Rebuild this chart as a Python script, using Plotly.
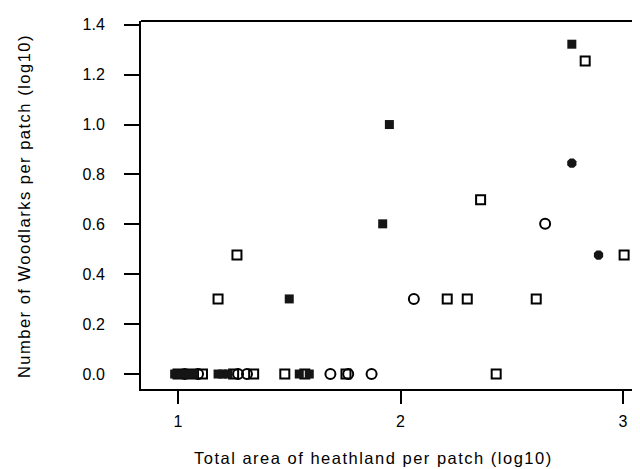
import plotly.graph_objects as go

# Open-square observations (log10 area, log10 woodlarks)
sq_x = [1.00, 1.06, 1.11, 1.25, 1.34,
        1.48, 1.57, 1.755, 2.43, 1.18, 1.265, 2.21, 2.30, 2.61, 2.36,
        2.83, 3.005]
sq_y = [0.0, 0.0, 0.0, 0.0, 0.0,
        0.0, 0.0, 0.0, 0.0, 0.301, 0.477, 0.301, 0.301, 0.301, 0.699,
        1.255, 0.477]

# Open-circle observations
ci_x = [1.03, 1.09, 1.27, 1.31,
        1.685, 1.765, 1.87, 2.65, 2.06]
ci_y = [0.0, 0.0, 0.0, 0.0,
        0.0, 0.0, 0.0, 0.602, 0.301]

# Filled (overlapping) observations
fs_x = [0.985, 1.01, 1.04, 1.07, 1.18, 1.20, 1.225,
        1.545, 1.59, 1.50, 1.92, 1.95, 2.77]
fs_y = [0.0, 0.0, 0.0, 0.0, 0.0, 0.0, 0.0,
        0.0, 0.0, 0.301, 0.602, 1.0, 1.322]

# Filled cluster observations
fo_x = [2.77, 2.89]
fo_y = [0.845, 0.477]

x_ticks = [1, 2, 3]
y_ticks = [0.0, 0.2, 0.4, 0.6, 0.8, 1.0, 1.2, 1.4]

x_title = "Total area of heathland per patch (log10)"
y_title = "Number of Woodlarks per patch (log10)"

FONT = "Arial, Liberation Sans, sans-serif"


def spaced(s, px):
    return f'<span style="letter-spacing:{px}px">{s}</span>'


fig = go.Figure()
fig.add_trace(go.Scatter(x=sq_x, y=sq_y, mode="markers",
                         marker=dict(symbol="square-open", size=9, color="black",
                                     line=dict(width=2, color="black"))))
fig.add_trace(go.Scatter(x=ci_x, y=ci_y, mode="markers",
                         marker=dict(symbol="circle-open", size=10, color="black",
                                     line=dict(width=2, color="black"))))
fig.add_trace(go.Scatter(x=fs_x, y=fs_y, mode="markers",
                         marker=dict(symbol="square", size=9, color="#151515",
                                     line=dict(width=0))))
fig.add_trace(go.Scatter(x=fo_x, y=fo_y, mode="markers",
                         marker=dict(symbol="octagon", size=10, color="#151515",
                                     line=dict(width=0))))

fig.update_layout(
    width=632, height=461,
    margin=dict(l=133, r=0, t=13, b=80),
    paper_bgcolor="white", plot_bgcolor="white",
    showlegend=False,
    font=dict(family=FONT, size=16, color="black"),
    xaxis=dict(range=[0.8337, 3.0764], tickvals=x_ticks,
               ticktext=[str(v) for v in x_ticks],
               showgrid=False, zeroline=False, showline=True,
               linecolor="black", linewidth=2,
               ticks="outside", ticklen=13, tickwidth=2, tickcolor="black",
               ticklabelstandoff=4,
               tickfont=dict(size=16, family=FONT, color="black")),
    yaxis=dict(range=[-0.060, 1.415], tickvals=y_ticks,
               ticktext=[f"{v:.1f}" for v in y_ticks],
               showgrid=False, zeroline=False, showline=True,
               linecolor="black", linewidth=2,
               ticks="outside", ticklen=15, tickwidth=2, tickcolor="black",
               ticklabelstandoff=16,
               tickfont=dict(size=16, family=FONT, color="black")),
    shapes=[dict(type="line", xref="paper", yref="paper", x0=0, x1=1, y0=1, y1=1,
                 line=dict(color="black", width=2))],
    annotations=[
        dict(text=spaced(x_title, 1.5), xref="paper", yref="paper", x=0.465, y=-0.1875,
             xanchor="center", yanchor="middle", showarrow=False,
             font=dict(size=16.5, family=FONT, color="black")),
        dict(text=spaced(y_title, 1.5), xref="paper", yref="paper", x=-0.2345, y=0.497,
             xanchor="center", yanchor="middle", showarrow=False, textangle=-90,
             font=dict(size=16.5, family=FONT, color="black")),
    ],
)

fig.write_html("out.html")
